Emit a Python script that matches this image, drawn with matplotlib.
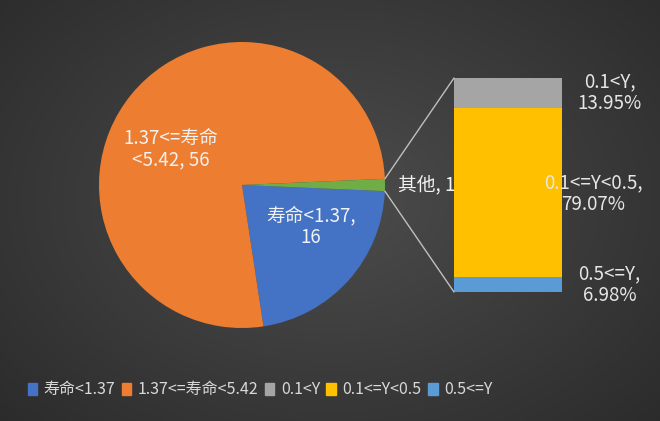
import numpy as np
import matplotlib
matplotlib.use("Agg")
import matplotlib.pyplot as plt
from matplotlib.patches import ConnectionPatch, Patch

plt.rcParams["font.family"] = ["Noto Sans CJK SC", "DejaVu Sans"]

# pie data
pie_labels = ["寿命<1.37", "1.37<=寿命<5.42", "其他"]
pie_values = [16, 56, 1]
pie_colors = ["#4472c4", "#ed7d31", "#70ad47"]

# bar-of-pie data (bottom to top)
bar_labels = ["0.5<=Y", "0.1<=Y<0.5", "0.1<Y"]
bar_values = [6.98, 79.07, 13.95]
bar_colors = ["#5b9bd5", "#ffc000", "#a5a5a5"]

W, H = 660, 421
fig = plt.figure(figsize=(W / 100, H / 100), dpi=100)

# radial gradient background
bg = fig.add_axes([0, 0, 1, 1])
yy, xx = np.mgrid[0:H, 0:W]
d = np.sqrt(((xx - 330) / 420) ** 2 + ((yy - 200) / 300) ** 2)
shade = np.clip(0.30 - 0.12 * d, 0.17, 0.30)
bg.imshow(np.dstack([shade] * 3), aspect="auto", extent=[0, 1, 0, 1])
bg.axis("off")

# pie
cx, cy, r = 242, 185, 143
ax = fig.add_axes([(cx - r) / W, (H - cy - r) / H, 2 * r / W, 2 * r / H])
total = sum(pie_values)
half_other = pie_values[2] / total * 360 / 2
wedges, _ = ax.pie(pie_values, colors=pie_colors, startangle=-half_other,
                   counterclock=False, radius=1,
                   wedgeprops=dict(linewidth=0))
ax.set_xlim(-1, 1)
ax.set_ylim(-1, 1)
ax.set_aspect("auto")
ax.axis("off")

fs = 13.5
txt = dict(color="#f2f2f2", fontsize=fs, ha="center", va="center",
           linespacing=1.05)
ax.text(-0.50, 0.25, "1.37<=寿命\n<5.42, 56", **txt)
ax.text(0.48, -0.29, "寿命<1.37,\n16", **txt)
ax.text(1.09, 0.0, "其他, 1", color="#f2f2f2", fontsize=fs,
        ha="left", va="center", clip_on=False)

# stacked bar
bx0, bx1, by0, by1 = 454, 562, 78, 292
bax = fig.add_axes([bx0 / W, (H - by1) / H, (bx1 - bx0) / W, (by1 - by0) / H])
bottom = 0
for val, col in zip(bar_values, bar_colors):
    bax.bar(0.5, val, width=1.0, bottom=bottom, color=col, linewidth=0,
            zorder=2)
    bottom += val
bax.set_xlim(0, 1)
bax.set_ylim(0, 100)
bax.axis("off")

lab = dict(color="#e6e6e6", fontsize=fs, ha="center", va="center",
           linespacing=1.05, clip_on=False, zorder=5)
bax.text(1.44, 93, "0.1<Y,\n13.95%", **lab)
bax.text(1.29, 46, "0.1<=Y<0.5,\n79.07%", **lab)
bax.text(1.44, 3.5, "0.5<=Y,\n6.98%", **lab)

# connector lines
a = np.deg2rad(half_other)
for ang, ybar in [(a, 100), (-a, 0)]:
    con = ConnectionPatch(xyA=(np.cos(ang), np.sin(ang)), coordsA=ax.transData,
                          xyB=(0, ybar), coordsB=bax.transData,
                          color="#bfbfbf", linewidth=1.0)
    fig.add_artist(con)

# legend
handles = [Patch(color=c) for c in pie_colors[:2] + bar_colors[::-1]]
names = pie_labels[:2] + bar_labels[::-1]
leg = fig.legend(handles, names, loc="center", bbox_to_anchor=(0.394, 0.074),
                 ncol=5, frameon=False, fontsize=11.5, handlelength=0.6,
                 handleheight=0.8, handletextpad=0.4, columnspacing=0.4)
for t in leg.get_texts():
    t.set_color("#d9d9d9")

fig.savefig("out.png", dpi=100)
